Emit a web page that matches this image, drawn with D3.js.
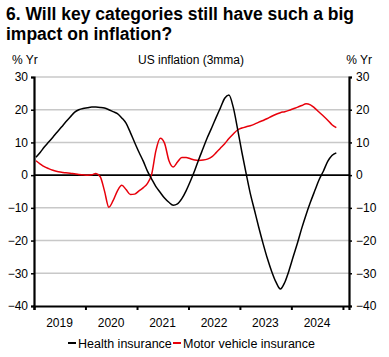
<!DOCTYPE html>
<html><head><meta charset="utf-8">
<script src="https://cdn.jsdelivr.net/npm/d3@7"></script>
<style>body{margin:0;background:#fff;font-family:"Liberation Sans",Arial,sans-serif;}</style>
</head><body><svg id="c" width="389" height="357"></svg>
<script>
const startYear = 2019, startMonth = 0; // Jan 2019, monthly
const health = [5.5,7.0,8.6,10.1,11.6,13.2,14.7,16.3,17.8,19.2,20.0,20.4,
20.6,20.8,20.8,20.7,20.5,20.0,19.4,18.8,17.5,15.9,13.0,10.0,
7.0,4.2,1.3,-1.2,-3.5,-5.3,-7.0,-8.3,-9.2,-8.8,-7.2,-4.8,
-1.8,1.5,4.8,8.2,11.5,14.5,17.5,20.5,23.5,24.5,20.7,14.2,
7.0,0.3,-5.5,-10.8,-16.0,-21.0,-25.5,-29.5,-32.8,-34.8,-32.8,-29.2,
-24.8,-20.5,-16.2,-12.0,-8.3,-4.8,-1.5,1.2,4.2,6.0,6.8];
const motor = [4.4,3.4,2.6,2.0,1.5,1.1,0.9,0.7,0.6,0.4,0.2,0.1,
0.0,0.1,0.5,-0.5,-4.8,-9.8,-7.8,-4.8,-3.1,-4.4,-5.9,-5.8,
-4.8,-3.8,-2.6,0.3,7.5,11.3,9.8,4.5,2.5,4.0,5.4,5.4,
5.0,4.6,4.5,4.6,4.9,5.6,6.8,8.2,9.6,11.2,12.6,13.8,
14.4,14.8,15.1,15.6,16.2,16.7,17.3,18.0,18.6,19.1,19.4,19.8,
20.3,20.8,21.3,21.8,21.5,20.5,19.3,18.1,16.8,15.4,14.5];
const yTicks = [30,20,10,0,-10,-20,-30,-40];
const yearLabels = ["2019","2020","2021","2022","2023","2024"];
const seriesNames = ["Health insurance","Motor vehicle insurance"];
const colors = ["#000000","#e8000b"];

const svg = d3.select("#c");
const L = 34, R = 349, T = 77, B = 306;
const x = d3.scaleTime().domain([new Date(2019,0,1), new Date(2025,1,13)]).range([L,R]);
const y = d3.scaleLinear().domain([-40,30]).range([B,T]);
const dateOf = i => new Date(startYear, startMonth + i, 15);

// title
const title = svg.append("text").attr("font-weight","bold").attr("font-size","17.5px").attr("fill","#000");
title.append("tspan").attr("x",6).attr("y",20).text("6. Will key categories still have such a big");
title.append("tspan").attr("x",6).attr("y",40).text("impact on inflation?");

svg.append("text").attr("x",12).attr("y",64).attr("font-size","12px").text("% Yr");
svg.append("text").attr("x",372).attr("y",64).attr("font-size","12px").attr("text-anchor","end").text("% Yr");
svg.append("text").attr("x",191).attr("y",64).attr("font-size","12px").attr("text-anchor","middle").text("US inflation (3mma)");

// gridlines
svg.append("g").selectAll("line").data(yTicks.filter(d=>d!==0 && d!==-40)).join("line")
  .attr("x1",L).attr("x2",R).attr("y1",d=>y(d)).attr("y2",d=>y(d))
  .attr("stroke","#c8c8c8").attr("stroke-width",1.5);

// left axis
const la = svg.append("g").attr("transform",`translate(${L},0)`)
  .call(d3.axisLeft(y).tickValues(yTicks).tickSize(3).tickPadding(3));
const ra = svg.append("g").attr("transform",`translate(${R},0)`)
  .call(d3.axisRight(y).tickValues(yTicks).tickSize(3).tickPadding(4));
[la,ra].forEach(a=>{
  a.select(".domain").attr("stroke","#000").attr("stroke-width",2.2);
  a.selectAll(".tick line").attr("stroke","#000").attr("stroke-width",1.5);
  a.selectAll(".tick text").attr("font-size","12px").attr("font-family","Liberation Sans, Arial, sans-serif").attr("fill","#000");
});

// bottom axis
const yearTicks = d3.range(2019,2026).map(yy=>new Date(yy,0,1));
const ba = svg.append("g").attr("transform",`translate(0,${B})`)
  .call(d3.axisBottom(x).tickValues(yearTicks).tickSize(4).tickFormat(""));
ba.select(".domain").attr("stroke","#000").attr("stroke-width",2.2);
ba.selectAll(".tick line").attr("stroke","#000").attr("stroke-width",2);
svg.append("g").selectAll("text").data(yearLabels).join("text")
  .attr("x",d=>x(new Date(+d,6,1))).attr("y",327).attr("text-anchor","middle")
  .attr("font-size","12px").text(d=>d);

// zero line
svg.append("line").attr("x1",L).attr("x2",R).attr("y1",y(0)).attr("y2",y(0)).attr("stroke","#000").attr("stroke-width",1.8);

const line = d3.line().x((d,i)=>x(dateOf(i))).y(d=>y(d)).curve(d3.curveMonotoneX);
svg.append("path").datum(motor).attr("d",line).attr("fill","none").attr("stroke",colors[1]).attr("stroke-width",1.5);
svg.append("path").datum(health).attr("d",line).attr("fill","none").attr("stroke",colors[0]).attr("stroke-width",1.5);

// legend
const lg = svg.append("g");
const items = [{n:seriesNames[0],c:colors[0],x:68},{n:seriesNames[1],c:colors[1],x:173}];
items.forEach(it=>{
  lg.append("line").attr("x1",it.x).attr("x2",it.x+8).attr("y1",343).attr("y2",343).attr("stroke",it.c).attr("stroke-width",2);
  lg.append("text").attr("x",it.x+10).attr("y",347.5).attr("font-size","12.5px").text(it.n);
});
</script></body></html>
